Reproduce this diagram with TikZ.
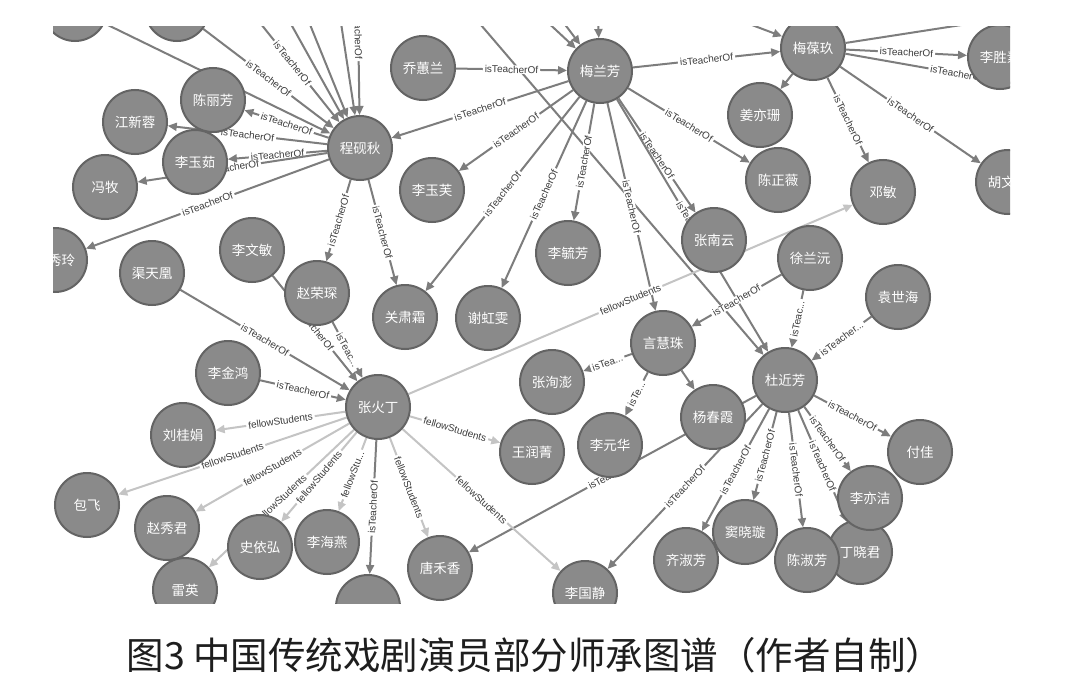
\documentclass[tikz,border=0pt]{standalone}
\usepackage{fontspec}
\setmainfont{Liberation Sans}
\newfontfamily\cjk{Noto Sans CJK SC}
\usepackage{xcolor}
\usetikzlibrary{arrows.meta}
\pgfdeclarelayer{edges}
\pgfsetlayers{edges,main}
\definecolor{nodefill}{RGB}{138,138,138}
\definecolor{nodeline}{RGB}{100,100,100}
\definecolor{teachline}{RGB}{125,125,125}
\definecolor{fellowline}{RGB}{196,196,196}
\definecolor{lbltext}{RGB}{60,60,60}
\definecolor{captext}{RGB}{30,30,30}

\tikzset{
person/.style={circle,minimum size=64pt,inner sep=0pt,fill=nodefill,draw=nodeline,line width=2pt,text=white,font=\cjk\fontsize{13.5}{14}\selectfont},
teach/.style={line width=2pt,draw=teachline,-{Triangle[length=9pt,width=8pt]}},
fellow/.style={line width=2pt,draw=fellowline,-{Triangle[length=9pt,width=8pt]}},
lbl/.style={sloped,fill=white,inner xsep=2pt,inner ysep=0.5pt,text=lbltext,font=\fontsize{10}{10}\selectfont},
figcap/.style={text=captext,inner sep=0pt,font=\cjk\fontsize{37.5}{38}\selectfont}
}

\begin{document}
\begin{tikzpicture}[x=1pt,y=-1pt]
\useasboundingbox (0,0) rectangle (1065,693);

\begin{scope}
\clip (53,27) rectangle (1010,603);
\node[person] (top1) at (75,9) {};
\node[person] (top2) at (177,9) {};
\node[person] (chenlf) at (213,100) {陈丽芳};
\node[person] (jiangxr) at (135,122) {江新蓉};
\node[person] (liyr) at (195,162) {李玉茹};
\node[person] (fengm) at (105,187) {冯牧};
\node[person] (cyq) at (360,148) {程砚秋};
\node[person] (xiul) at (55,260) {\hspace*{13pt}秀玲};
\node[person] (qutf) at (152,273) {渠天凰};
\node[person] (liwm) at (252,250) {李文敏};
\node[person] (zhaorc) at (317,293) {赵荣琛};
\node[person] (qiaohl) at (423,68) {乔蕙兰};
\node[person] (mlf) at (600,71) {梅兰芳};
\node[person] (liyf) at (432,190) {李玉芙};
\node[person] (liyuf) at (568,253) {李毓芳};
\node[person] (guansh) at (405,317) {关肃霜};
\node[person] (xiehw) at (488,318) {谢虹雯};
\node[person] (zhangny) at (714,240) {张南云};
\node[person] (mbj) at (813,48) {梅葆玖};
\node[person] (lisz) at (1000,57) {李胜素};
\node[person] (jiangys) at (760,115) {姜亦珊};
\node[person] (chenzw) at (778,180) {陈正薇};
\node[person] (dengm) at (883,192) {邓敏};
\node[person] (huwg) at (1008,182) {胡文阁};
\node[person] (xulz) at (810,258) {徐兰沅};
\node[person] (yuansh) at (898,297) {袁世海};
\node[person] (yanhz) at (663,343) {言慧珠};
\node[person] (zhangxp) at (552,382) {张洵澎};
\node[person] (wangrj) at (532,452) {王润菁};
\node[person] (liyh) at (610,445) {李元华};
\node[person] (yangcx) at (713,417) {杨春霞};
\node[person] (djf) at (785,380) {杜近芳};
\node[person] (fuj) at (920,452) {付佳};
\node[person] (dingxj) at (860,552) {丁晓君};
\node[person] (liyj) at (870,498) {李亦洁};
\node[person] (chensf) at (807,560) {陈淑芳};
\node[person] (douxx) at (745,532) {窦晓璇};
\node[person] (qisf) at (686,560) {齐淑芳};
\node[person] (tanghx) at (440,568) {唐禾香};
\node[person] (ligj) at (585,593) {李国静};
\node[person] (zhd) at (378,407) {张火丁};
\node[person] (lijh) at (228,373) {李金鸿};
\node[person] (liugj) at (183,435) {刘桂娟};
\node[person] (baof) at (87,505) {包飞};
\node[person] (zhaoxj) at (167,528) {赵秀君};
\node[person] (leiy) at (185,590) {雷英};
\node[person] (shiyh) at (260,547) {史依弘};
\node[person] (lihy) at (327,542) {李海燕};
\node[person] (bot) at (368,607) {};
\end{scope}

\begin{pgfonlayer}{edges}
\fill[white] (0,0) rectangle (1065,693);
\begin{scope}
\clip (53,27) rectangle (1010,603);
\coordinate (u1) at (245,4);
\coordinate (u2) at (272,-10);
\coordinate (u3) at (296,-10);
\coordinate (u4) at (336,-10);
\coordinate (u5) at (357,-50);
\coordinate (u6) at (513,-10);
\coordinate (u7) at (539,-10);
\coordinate (u8) at (597,-10);
\coordinate (u9) at (1068,93);
\coordinate (u10) at (451,-10);
\coordinate (u11) at (659,-10);
\coordinate (u12) at (1000,19);

\foreach \a/\b in {top1/cyq,u2/cyq,u3/cyq,u4/cyq,u6/mlf,u7/mlf,u8/mlf,u10/djf,u11/mbj,mbj/u12,mbj/jiangys,yanhz/yangcx}
{
\draw[teach] (\a) -- (\b);
}

\foreach \a/\b in {top2/cyq,u1/cyq,u5/cyq,cyq/chenlf,cyq/jiangxr,cyq/liyr,cyq/fengm,cyq/xiul,cyq/zhaorc,cyq/guansh,
qiaohl/mlf,mlf/cyq,mlf/liyf,mlf/guansh,mlf/xiehw,mlf/liyuf,mlf/yanhz,mlf/zhangny,mlf/djf,mlf/chenzw,mlf/mbj,
mbj/lisz,mbj/u9,mbj/dengm,mbj/huwg,xulz/yanhz,djf/fuj,djf/liyj,djf/dingxj,djf/chensf,djf/douxx,djf/qisf,djf/ligj,djf/tanghx,
qutf/zhd,lijh/zhd,liwm/zhd,zhd/bot}
{
\draw[teach] (\a) -- node[lbl]{isTeacherOf} (\b);
}

\draw[teach] (zhaorc) -- node[lbl]{isTeac...} (zhd);
\draw[teach] (xulz) -- node[lbl]{isTeac...} (djf);
\draw[teach] (yuansh) -- node[lbl]{isTeacher...} (djf);
\draw[teach] (yanhz) -- node[lbl]{isTea...} (zhangxp);
\draw[teach] (yanhz) -- node[lbl]{isTe...} (liyh);

\foreach \b in {liugj,baof,zhaoxj,leiy,shiyh,tanghx,ligj,wangrj,dengm}
{
\draw[fellow] (zhd) -- node[lbl]{fellowStudents} (\b);
}
\draw[fellow] (zhd) -- node[lbl]{fellowStu...} (lihy);
\end{scope}
\end{pgfonlayer}

\node[figcap] (cap) at (535,655) {图3 中国传统戏剧演员部分师承图谱（作者自制）};
\end{tikzpicture}
\end{document}
